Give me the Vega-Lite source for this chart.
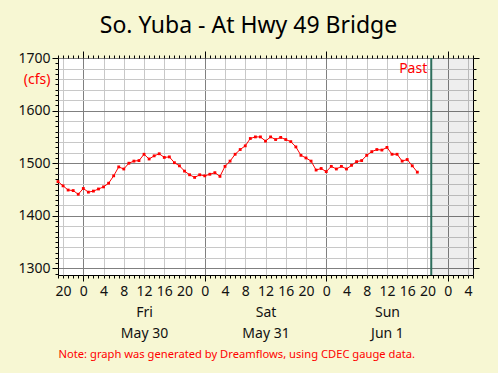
{
  "$schema": "https://vega.github.io/schema/vega-lite/v6.json",
  "autosize": {"type": "none"},
  "width": 415,
  "height": 217,
  "padding": {"left": 58, "top": 58, "right": 25, "bottom": 98},
  "background": "#f7f7d3",
  "view": {"fill": "white", "stroke": "black", "strokeWidth": 1},
  "title": {"text": "So. Yuba - At Hwy 49 Bridge", "font": "Noto Sans", "fontSize": 23, "fontWeight": "normal", "color": "#000", "anchor": "middle", "baseline": "alphabetic", "offset": -5, "dx": -17},
  "datasets": {
    "flow": [
      {"t": "2025-05-29T19:00:00Z", "cfs": 1465}, {"t": "2025-05-29T20:00:00Z", "cfs": 1457}, {"t": "2025-05-29T21:00:00Z", "cfs": 1449}, {"t": "2025-05-29T22:00:00Z", "cfs": 1448}, {"t": "2025-05-29T23:00:00Z", "cfs": 1441},
      {"t": "2025-05-30T00:00:00Z", "cfs": 1452}, {"t": "2025-05-30T01:00:00Z", "cfs": 1445}, {"t": "2025-05-30T02:00:00Z", "cfs": 1447}, {"t": "2025-05-30T03:00:00Z", "cfs": 1451}, {"t": "2025-05-30T04:00:00Z", "cfs": 1455}, {"t": "2025-05-30T05:00:00Z", "cfs": 1462}, {"t": "2025-05-30T06:00:00Z", "cfs": 1476}, {"t": "2025-05-30T07:00:00Z", "cfs": 1493}, {"t": "2025-05-30T08:00:00Z", "cfs": 1489}, {"t": "2025-05-30T09:00:00Z", "cfs": 1500}, {"t": "2025-05-30T10:00:00Z", "cfs": 1504}, {"t": "2025-05-30T11:00:00Z", "cfs": 1505}, {"t": "2025-05-30T12:00:00Z", "cfs": 1517}, {"t": "2025-05-30T13:00:00Z", "cfs": 1508}, {"t": "2025-05-30T14:00:00Z", "cfs": 1514}, {"t": "2025-05-30T15:00:00Z", "cfs": 1518}, {"t": "2025-05-30T16:00:00Z", "cfs": 1511}, {"t": "2025-05-30T17:00:00Z", "cfs": 1512}, {"t": "2025-05-30T18:00:00Z", "cfs": 1501}, {"t": "2025-05-30T19:00:00Z", "cfs": 1495}, {"t": "2025-05-30T20:00:00Z", "cfs": 1485}, {"t": "2025-05-30T21:00:00Z", "cfs": 1478}, {"t": "2025-05-30T22:00:00Z", "cfs": 1473}, {"t": "2025-05-30T23:00:00Z", "cfs": 1478},
      {"t": "2025-05-31T00:00:00Z", "cfs": 1476}, {"t": "2025-05-31T01:00:00Z", "cfs": 1479}, {"t": "2025-05-31T02:00:00Z", "cfs": 1482}, {"t": "2025-05-31T03:00:00Z", "cfs": 1475}, {"t": "2025-05-31T04:00:00Z", "cfs": 1494}, {"t": "2025-05-31T05:00:00Z", "cfs": 1504}, {"t": "2025-05-31T06:00:00Z", "cfs": 1517}, {"t": "2025-05-31T07:00:00Z", "cfs": 1526}, {"t": "2025-05-31T08:00:00Z", "cfs": 1533}, {"t": "2025-05-31T09:00:00Z", "cfs": 1547}, {"t": "2025-05-31T10:00:00Z", "cfs": 1550}, {"t": "2025-05-31T11:00:00Z", "cfs": 1550}, {"t": "2025-05-31T12:00:00Z", "cfs": 1542}, {"t": "2025-05-31T13:00:00Z", "cfs": 1550}, {"t": "2025-05-31T14:00:00Z", "cfs": 1545}, {"t": "2025-05-31T15:00:00Z", "cfs": 1549}, {"t": "2025-05-31T16:00:00Z", "cfs": 1545}, {"t": "2025-05-31T17:00:00Z", "cfs": 1541}, {"t": "2025-05-31T18:00:00Z", "cfs": 1531}, {"t": "2025-05-31T19:00:00Z", "cfs": 1515}, {"t": "2025-05-31T20:00:00Z", "cfs": 1510}, {"t": "2025-05-31T21:00:00Z", "cfs": 1504}, {"t": "2025-05-31T22:00:00Z", "cfs": 1487}, {"t": "2025-05-31T23:00:00Z", "cfs": 1490},
      {"t": "2025-06-01T00:00:00Z", "cfs": 1484}, {"t": "2025-06-01T01:00:00Z", "cfs": 1494}, {"t": "2025-06-01T02:00:00Z", "cfs": 1489}, {"t": "2025-06-01T03:00:00Z", "cfs": 1494}, {"t": "2025-06-01T04:00:00Z", "cfs": 1489}, {"t": "2025-06-01T05:00:00Z", "cfs": 1496}, {"t": "2025-06-01T06:00:00Z", "cfs": 1503}, {"t": "2025-06-01T07:00:00Z", "cfs": 1505}, {"t": "2025-06-01T08:00:00Z", "cfs": 1515}, {"t": "2025-06-01T09:00:00Z", "cfs": 1522}, {"t": "2025-06-01T10:00:00Z", "cfs": 1526}, {"t": "2025-06-01T11:00:00Z", "cfs": 1525}, {"t": "2025-06-01T12:00:00Z", "cfs": 1530}, {"t": "2025-06-01T13:00:00Z", "cfs": 1517}, {"t": "2025-06-01T14:00:00Z", "cfs": 1517}, {"t": "2025-06-01T15:00:00Z", "cfs": 1504}, {"t": "2025-06-01T16:00:00Z", "cfs": 1507}, {"t": "2025-06-01T17:00:00Z", "cfs": 1495}, {"t": "2025-06-01T18:00:00Z", "cfs": 1483}
    ],
    "now": [
      {"start": "2025-06-01T20:45:00Z", "end": "2025-06-02T05:00:00Z", "label": "Past"}
    ]
  },
  "resolve": {"axis": {"x": "independent", "y": "independent"}},
  "layer": [
    {
      "data": {"name": "now"},
      "mark": {"type": "rect", "fill": "#000", "fillOpacity": 0.066},
      "encoding": {
        "x": {"field": "start", "type": "temporal", "scale": {"type": "utc", "domain": ["2025-05-29T19:00:00Z", "2025-06-02T05:00:00Z"]},
          "axis": {"orient": "bottom", "tickCount": 82, "ticks": false, "domain": false, "grid": false,
            "labelExpr": "utchours(datum.value) === 12 ? utcFormat(datum.value, '%b %-d') : ''",
            "labelFont": "Noto Sans", "labelFontSize": 14, "labelColor": "#111", "labelPadding": 51, "labelBaseline": "top", "labelOverlap": false, "labelFlush": false, "labelBound": false, "title": null}},
        "x2": {"field": "end"}
      }
    },
    {
      "data": {"name": "now"},
      "mark": {"type": "rule", "color": "#2e6e5c", "strokeWidth": 2},
      "encoding": {
        "x": {"field": "start", "type": "temporal", "scale": {"type": "utc", "domain": ["2025-05-29T19:00:00Z", "2025-06-02T05:00:00Z"]},
          "axis": {"orient": "bottom", "tickCount": 82, "labels": false, "domain": false, "ticks": true, "tickColor": "#000", "tickWidth": 1,
            "tickSize": {"condition": {"test": "utchours(datum.value) === 0", "value": 6}, "value": 3},
            "grid": true, "gridColor": {"condition": {"test": "utchours(datum.value) === 0", "value": "#808080"}, "value": "rgba(0,0,0,0)"},
            "title": null}}
      }
    },
    {
      "data": {"name": "flow"},
      "mark": {"type": "line", "color": "#ff0000", "strokeWidth": 1},
      "encoding": {
        "x": {"field": "t", "type": "temporal", "scale": {"type": "utc", "domain": ["2025-05-29T19:00:00Z", "2025-06-02T05:00:00Z"]},
          "axis": {"orient": "bottom", "tickCount": 82, "ticks": false, "domain": false, "grid": true,
            "gridColor": {"condition": {"test": "utchours(datum.value) % 4 === 0 && utchours(datum.value) !== 0", "value": "#c8c8c8"}, "value": "rgba(0,0,0,0)"},
            "labelExpr": "utchours(datum.value) % 4 === 0 ? utcFormat(datum.value, '%-H') : ''",
            "labelFont": "Noto Sans", "labelFontSize": 14, "labelColor": "#111", "labelPadding": 9, "labelBaseline": "top", "labelOverlap": false, "labelFlush": false, "labelBound": false,
            "title": "Note: graph was generated by Dreamflows, using CDEC gauge data.", "titleFont": "Noto Sans", "titleFontSize": 11.2, "titleFontWeight": "normal", "titleColor": "#ff0000", "titleAnchor": "start", "titleAlign": "left", "titleBaseline": "middle", "titleX": 0, "titleY": 79}},
        "y": {"field": "cfs", "type": "quantitative", "scale": {"domain": [1287.5, 1700], "nice": false, "zero": false},
          "axis": {"orient": "left", "values": [1300, 1320, 1340, 1360, 1380, 1400, 1420, 1440, 1460, 1480, 1500, 1520, 1540, 1560, 1580, 1600, 1620, 1640, 1660, 1680, 1700], "ticks": false, "domain": false, "grid": true,
            "gridColor": {"condition": {"test": "datum.value % 100 === 0", "value": "#808080"}, "value": "#c8c8c8"},
            "labelExpr": "datum.value % 100 === 0 ? format(datum.value, 'd') : ''",
            "labelFont": "Noto Sans", "labelFontSize": 14, "labelColor": "#111", "labelPadding": 8, "labelOverlap": false, "labelFlush": false, "labelBound": false,
            "title": "(cfs)", "titleAngle": 0, "titleColor": "#ff0000", "titleFont": "Noto Sans", "titleFontSize": 14, "titleFontWeight": "normal", "titleAlign": "right", "titleBaseline": "middle", "titleX": -8, "titleY": 21}}
      }
    },
    {
      "data": {"name": "flow"},
      "mark": {"type": "point", "shape": "square", "filled": true, "color": "#ff0000", "size": 8, "opacity": 1},
      "encoding": {
        "x": {"field": "t", "type": "temporal", "scale": {"type": "utc", "domain": ["2025-05-29T19:00:00Z", "2025-06-02T05:00:00Z"]},
          "axis": {"orient": "top", "tickCount": 82, "labels": false, "grid": false, "domain": false, "ticks": true, "tickColor": "#000", "tickWidth": 1,
            "tickSize": {"condition": {"test": "utchours(datum.value) === 0", "value": 7}, "value": 3}, "title": null}},
        "y": {"field": "cfs", "type": "quantitative", "scale": {"domain": [1287.5, 1700], "nice": false, "zero": false},
          "axis": {"orient": "right", "values": [1300, 1320, 1340, 1360, 1380, 1400, 1420, 1440, 1460, 1480, 1500, 1520, 1540, 1560, 1580, 1600, 1620, 1640, 1660, 1680, 1700], "labels": false, "grid": false, "domain": false, "ticks": true, "tickColor": "#000", "tickWidth": 1,
            "tickSize": {"condition": {"test": "datum.value % 100 === 0", "value": 6}, "value": 3}, "title": null}}
      }
    },
    {
      "data": {"name": "now"},
      "mark": {"type": "text", "align": "right", "baseline": "top", "dx": -4, "dy": 4, "font": "Noto Sans", "fontSize": 14, "color": "#ff0000"},
      "encoding": {
        "x": {"field": "start", "type": "temporal", "scale": {"type": "utc", "domain": ["2025-05-29T19:00:00Z", "2025-06-02T05:00:00Z"]},
          "axis": {"orient": "bottom", "tickCount": 82, "ticks": false, "domain": false, "grid": false,
            "labelExpr": "utchours(datum.value) === 12 ? utcFormat(datum.value, '%a') : ''",
            "labelFont": "Noto Sans", "labelFontSize": 14, "labelColor": "#111", "labelPadding": 30, "labelBaseline": "top", "labelOverlap": false, "labelFlush": false, "labelBound": false, "title": null}},
        "y": {"datum": 1700, "type": "quantitative", "scale": {"domain": [1287.5, 1700], "nice": false, "zero": false},
          "axis": {"orient": "left", "values": [1290, 1300, 1310, 1320, 1330, 1340, 1350, 1360, 1370, 1380, 1390, 1400, 1410, 1420, 1430, 1440, 1450, 1460, 1470, 1480, 1490, 1500, 1510, 1520, 1530, 1540, 1550, 1560, 1570, 1580, 1590, 1600, 1610, 1620, 1630, 1640, 1650, 1660, 1670, 1680, 1690, 1700], "labels": false, "grid": false, "domain": false, "ticks": true, "tickColor": "#000", "tickWidth": 1,
            "tickSize": {"condition": {"test": "datum.value % 100 === 0", "value": 6}, "value": 3}, "title": null}},
        "text": {"field": "label"}
      }
    }
  ]
}
